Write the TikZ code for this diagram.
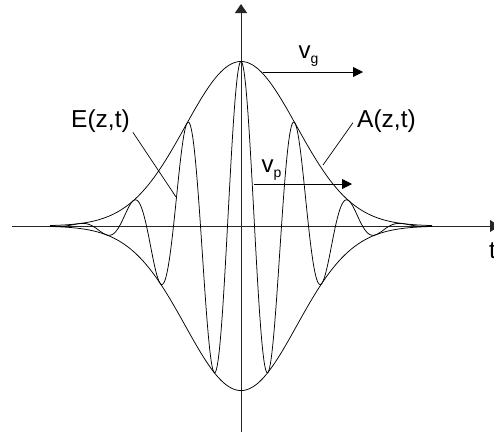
\documentclass[tikz,border=0pt]{standalone}
\usepackage{fontspec}
\setmainfont{Liberation Sans}
\usetikzlibrary{arrows.meta}
\begin{document}
\begin{tikzpicture}[x=1pt,y=-1pt,
  curve/.style={line width=0.75pt, black},
  axis/.style={line width=1pt, black!85, -{Triangle[length=9pt,width=12pt]}},
  lbl/.style={font=\fontsize{24.5}{24.5}\selectfont, inner sep=0pt, anchor=base west},
  vlab/.style={font=\fontsize{24}{24}\selectfont, inner sep=0pt, anchor=base west},
  vel/.style={line width=0.9pt, black, -{Triangle[length=10pt,width=10pt]}},
  leader/.style={line width=0.7pt, black}
]
\clip (0,0) rectangle (494,432);
% axes
\coordinate (xs) at (12,226);
\coordinate (xe) at (499,226);
\coordinate (ys) at (241,432);
\coordinate (ye) at (241,4);
\draw[axis] (xs) -- (xe);
\draw[axis] (ys) -- (ye);
% envelope
\draw[curve] plot[domain=50:432, samples=240, variable=\x]
  (\x, {226-164.5*exp(-((\x-241)/100)*((\x-241)/100)/0.62)});
\draw[curve] plot[domain=50:432, samples=240, variable=\x]
  (\x, {226+164.5*exp(-((\x-241)/100)*((\x-241)/100)/0.62)});
% carrier
\draw[curve] plot[domain=50:432, samples=900, variable=\x]
  (\x, {226-164.5*exp(-((\x-241)/100)*((\x-241)/100)/0.62)*cos((\x-241)/54*360)});
% labels
\node[lbl] (E) at (71,127) {E(z,t)};
\node[lbl] (A) at (357,127) {A(z,t)};
\coordinate (Ep) at (176,197);
\coordinate (Ap) at (323,165);
\draw[leader] ([xshift=3pt]E.south east) -- (Ep);
\draw[leader] ([shift={(-4,2)}]A.west) -- (Ap);
% velocities
\coordinate (g0) at (263,72);
\coordinate (g1) at (363,72);
\coordinate (p0) at (254,184);
\coordinate (p1) at (352,184);
\draw[vel] (g0) -- (g1);
\draw[vel] (p0) -- (p1);
\node[vlab] (vg) at (298.5,58.5) {v\raisebox{-5pt}{\fontsize{14}{14}\selectfont g}};
\node[vlab] (vp) at (261.5,172) {v\raisebox{-5pt}{\fontsize{14}{14}\selectfont p}};
\node[lbl] (t) at (489,258) {t};
\end{tikzpicture}
\end{document}
